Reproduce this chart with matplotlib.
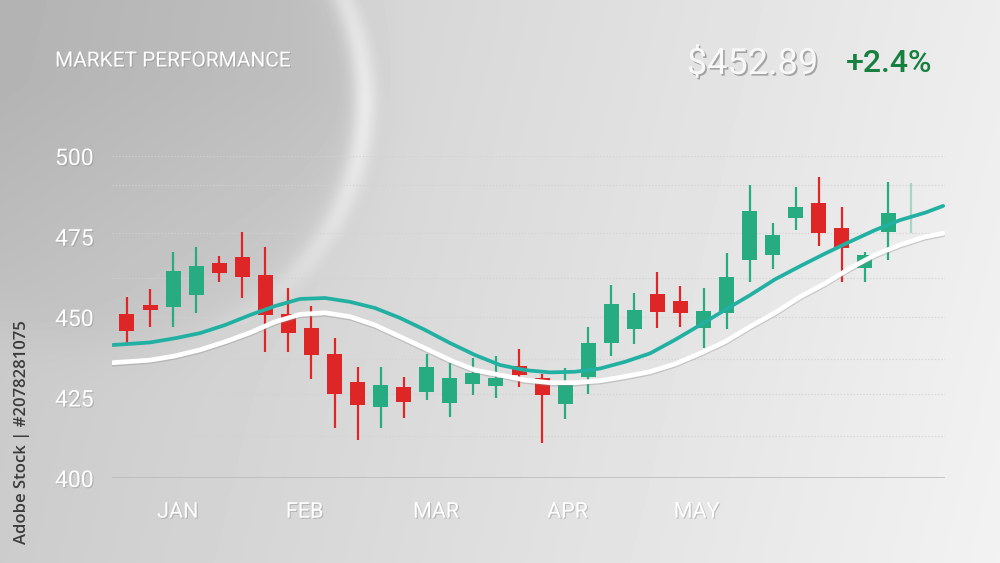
import matplotlib.pyplot as plt
import matplotlib.patheffects as pe
import numpy as np

# candle data
opens  = [450.9, 453.7, 453.1, 456.8, 466.8, 468.6, 463.0, 450.9, 446.6, 438.5,
          429.8, 422.0, 428.3, 426.7, 423.3, 429.2, 428.6, 434.8, 431.1, 423.0,
          431.4, 441.9, 446.3, 457.1, 455.0, 446.6, 451.2, 467.7, 469.3, 480.7,
          485.4, 477.6, 465.2, 476.4, 482.0]
closes = [445.7, 452.2, 464.3, 465.8, 463.7, 462.4, 450.6, 445.0, 438.2, 426.1,
          422.7, 428.9, 423.6, 434.5, 431.1, 432.6, 431.1, 432.0, 425.8, 429.2,
          441.9, 454.0, 452.2, 451.6, 451.2, 451.9, 462.4, 482.9, 475.5, 484.2,
          476.1, 471.4, 469.3, 482.3, 483.0]
highs  = [456.2, 458.7, 470.2, 471.7, 469.0, 476.4, 471.7, 459.0, 453.4, 443.5,
          434.5, 434.5, 431.4, 438.5, 435.7, 437.3, 437.9, 440.1, 432.3, 434.2,
          446.9, 459.9, 457.5, 464.0, 459.6, 459.0, 469.9, 491.0, 479.2, 490.4,
          493.5, 484.2, 470.2, 491.9, 491.6]
lows   = [441.9, 446.9, 446.9, 451.2, 460.9, 455.9, 439.1, 439.1, 430.7, 415.5,
          411.8, 415.5, 418.6, 424.2, 418.9, 425.8, 424.8, 428.3, 410.9, 418.3,
          426.1, 437.9, 441.6, 446.6, 446.9, 440.4, 446.3, 460.9, 464.9, 477.0,
          472.0, 461.0, 460.9, 467.7, 476.1]

# moving average curves, sampled along the picture (x in candle units)
ma_x = [-0.61, 1.00, 2.08, 3.17, 4.25, 5.33, 6.42, 7.50, 8.59, 9.67, 10.75, 11.84,
        12.92, 14.01, 15.09, 16.17, 17.26, 18.34, 19.43, 20.51, 21.60, 22.68, 23.76,
        24.85, 25.93, 27.02, 28.10, 29.19, 30.27, 31.35, 32.44, 33.52, 34.61, 35.39]
ma_fast = [441.3, 442.1, 443.4, 445.0, 447.5, 450.6, 453.4, 455.6, 455.9, 454.7, 452.8, 449.7,
           446.0, 441.9, 438.2, 435.1, 433.5, 432.8, 433.0, 434.0, 436.1, 438.7, 442.9,
           447.5, 452.2, 456.8, 461.7, 465.8, 469.7, 473.4, 477.0, 480.1, 482.4, 484.5]
ma_slow = [435.8, 436.6, 437.9, 439.8, 442.3, 445.1, 448.5, 450.8, 451.3, 450.1, 447.5, 443.9,
           440.3, 436.6, 433.5, 432.0, 430.4, 429.6, 429.6, 430.2, 431.5, 433.0, 435.4,
           438.7, 442.3, 447.0, 451.3, 456.3, 460.4, 465.1, 469.3, 472.4, 474.9, 476.0]

months = ["JAN", "FEB", "MAR", "APR", "MAY"]
month_pos = [2.2, 7.7, 13.4, 19.1, 24.7]
yticks = [400, 425, 450, 475, 500]
grid_levels = [500, 491, 476, 462, 450, 437, 426, 413]

RED = "#df2626"
GREEN = "#27ab80"
TEAL = "#22b0a2"
FONT = ["Roboto", "DejaVu Sans"]

fig = plt.figure(figsize=(10, 5.63), dpi=100)

# background: grey gradient with a dark sphere and a bright rim
H, W = 563, 1000
yy, xx = np.mgrid[0:H, 0:W].astype(float)
img = 0.78 + 0.15 * (xx / W) + 0.02 * (yy / H)
cx, cy, r = 110.0, 100.0, 254.0
d = np.hypot(xx - cx, yy - cy)
inside = 1.0 / (1.0 + np.exp((d - r) / 14.0))
img -= 0.08 * inside * np.clip(1.2 - yy / 420.0, 0, 1)
theta = np.arctan2(yy - cy, xx - cx)
w = np.clip(np.cos(theta - 0.25), 0, 1) ** 1.5
img += 0.12 * np.exp(-((d - r) / 12.0) ** 2) * w * np.clip(1.3 - yy / 330.0, 0, 1)
img = np.clip(img, 0, 1)
bg = fig.add_axes([0, 0, 1, 1])
bg.imshow(img, cmap="gray", vmin=0, vmax=1, extent=[0, W, H, 0], aspect="auto")
bg.axis("off")

ax = fig.add_axes([0.112, 1 - 478 / 563, 0.833, (478 - 156) / 563])
ax.set_facecolor("none")
ax.set_xlim(-0.65, 35.47)
ax.set_ylim(400, 500)
for s in ax.spines.values():
    s.set_visible(False)

for g in grid_levels:
    ax.axhline(g, color="#d2d2d2", lw=0.9, ls=(0, (1.2, 1.4)), alpha=0.8, zorder=1)
ax.axhline(400, color="#b9b9b9", lw=1.8, zorder=1)

xs = np.arange(len(opens))
for i in xs:
    o, c, h, l = opens[i], closes[i], highs[i], lows[i]
    col = GREEN if c >= o else RED
    last = i == len(opens) - 1
    a = 0.35 if last else 1.0
    ax.vlines(i, l, h, color=col, lw=1.6, alpha=a, zorder=3)
    if not last:
        ax.bar(i, max(abs(c - o), 0.8), bottom=min(o, c), width=0.65,
               color=col, zorder=4)

ax.plot(ma_x, ma_slow, color="white", lw=3.4, solid_capstyle="round", zorder=5,
        path_effects=[pe.SimpleLineShadow(offset=(0, -1), shadow_color="#888888", alpha=0.35),
                      pe.Normal()])
ax.plot(ma_x, ma_fast, color=TEAL, lw=2.7, solid_capstyle="round", zorder=6)

shadow = [pe.withSimplePatchShadow(offset=(0.8, -0.8), shadow_rgbFace="#777777", alpha=0.35)]

ax.set_yticks(yticks)
ax.set_yticklabels([str(v) for v in yticks])
ax.tick_params(axis="y", length=0, pad=41, labelsize=16.5, labelcolor="white")
for t in ax.get_yticklabels():
    t.set_horizontalalignment("left")
    t.set_family(FONT)
    t.set_path_effects(shadow)

ax.set_xticks(month_pos)
ax.set_xticklabels(months)
ax.tick_params(axis="x", length=0, pad=17, labelsize=15.5, labelcolor="white")
for t in ax.get_xticklabels():
    t.set_family(FONT)
    t.set_path_effects(shadow)

fig.text(0.055, 1 - 61 / 563, "MARKET PERFORMANCE", ha="left", va="center",
         fontsize=15, color="white", family=FONT, path_effects=shadow)
fig.text(0.818, 1 - 64 / 563, "$452.89", ha="right", va="center", fontsize=26,
         color="#f8f8f8", family=FONT, weight="normal",
         path_effects=[pe.withSimplePatchShadow(offset=(1.2, -1.2), shadow_rgbFace="#6f6f6f", alpha=0.55)])
fig.text(0.932, 1 - 64 / 563, "+2.4%", ha="right", va="center", fontsize=23,
         color="#17803f", family=FONT, weight="medium")
fig.text(0.022, 1 - 432 / 563, "Adobe Stock | #2078281075", ha="center", va="center",
         rotation=90, fontsize=12, color="#3c3c3c", weight="semibold",
         family=["Open Sans", "DejaVu Sans"])

fig.savefig("out.png", dpi=100)
